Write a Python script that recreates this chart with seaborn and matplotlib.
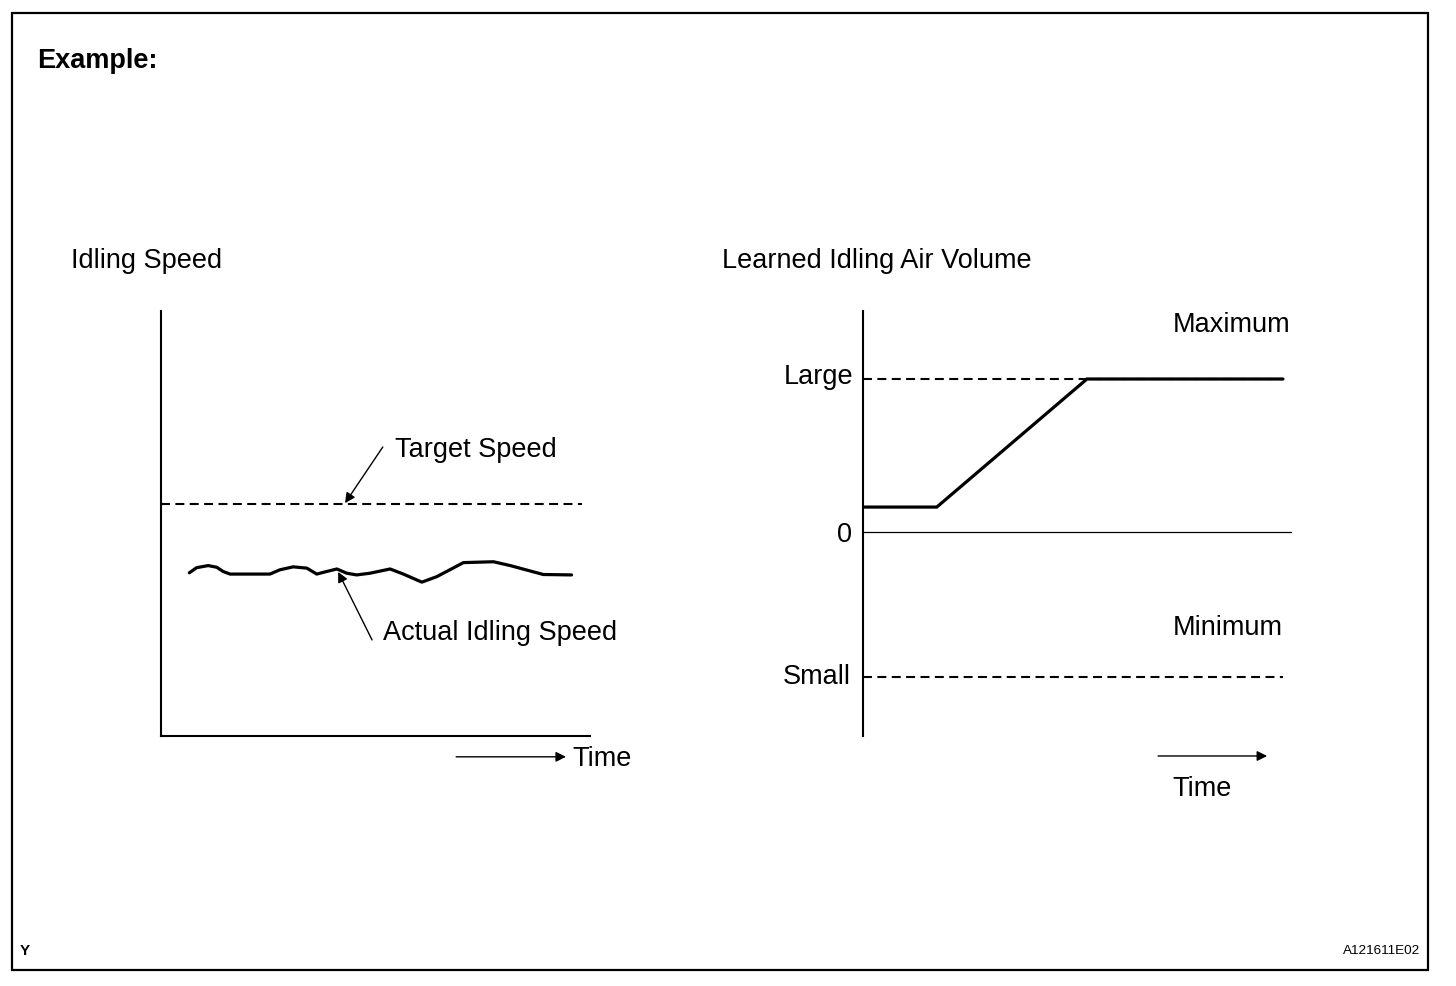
import matplotlib
matplotlib.use("Agg")
import matplotlib.pyplot as plt
from matplotlib.patches import Rectangle
import seaborn as sns

# left panel: idling speed (time 0-100, speed 0-100)
target_speed = 54.5
target_time = [0.0, 98.1]
actual_time = [6.6, 8.3, 11.0, 13.0, 14.5, 16.1, 25.4, 27.7, 30.8, 34.0, 36.3, 38.6, 41.0,
               43.3, 45.6, 48.7, 53.4, 56.5, 60.8, 64.3, 70.5, 77.5, 81.4, 89.1, 95.7]
actual_speed = [38.4, 39.6, 40.1, 39.7, 38.7, 38.1, 38.1, 39.1, 39.8, 39.5, 38.1, 38.7, 39.3,
                38.3, 37.9, 38.3, 39.3, 38.1, 36.2, 37.5, 40.8, 41.0, 40.1, 38.0, 37.9]

# right panel: learned idling air volume (0 = no learning, 1 = Large, -0.95 = Small)
level_large = 1.0
level_small = -0.95
limit_time = [0.0, 97.9]
learned_time = [0.0, 17.2, 52.2, 97.9]
learned_volume = [0.163, 0.163, 1.0, 1.0]

W, H = 1456, 986
FS = 19.5
DASH = (0, (4.3, 2.6))

sns.set_style("white")
plt.rcParams["font.family"] = ["Liberation Sans", "DejaVu Sans"]
plt.rcParams["text.color"] = "black"

fig = plt.figure(figsize=(W / 100, H / 100), dpi=100)
fig.patches.append(Rectangle((12 / W, 1 - 970 / H), 1416 / W, 957 / H,
                             transform=fig.transFigure, fill=False, lw=1.6, color="black"))

fig.text(37 / W, 1 - 61.5 / H, "Example:", fontsize=FS, fontweight="bold", va="center")
fig.text(71 / W, 1 - 260.5 / H, "Idling Speed", fontsize=FS, va="center")
fig.text(722 / W, 1 - 260.5 / H, "Learned Idling Air Volume", fontsize=FS, va="center")
fig.text(20 / W, 1 - 951 / H, "Y", fontsize=11, fontweight="bold", va="center")
fig.text(1420 / W, 1 - 951 / H, "A121611E02", fontsize=9.7, ha="right", va="center")

ax1 = fig.add_axes([161 / W, 1 - 736 / H, 429 / W, 425 / H])
ax2 = fig.add_axes([863 / W, 1 - 736 / H, 429 / W, 425 / H])
for ax in (ax1, ax2):
    ax.set_facecolor("none")
    ax.set_xticks([])
    ax.set_yticks([])
    ax.set_xlim(0, 100)
    for s in ("top", "right"):
        ax.spines[s].set_visible(False)
    for s in ("left", "bottom"):
        ax.spines[s].set_color("black")
        ax.spines[s].set_linewidth(1.5)

# left panel
ax1.set_ylim(0, 100)
sns.lineplot(x=target_time, y=[target_speed] * 2, ax=ax1, color="black", lw=1.5, linestyle=DASH)
sns.lineplot(x=actual_time, y=actual_speed, ax=ax1, color="black", lw=2.3,
             solid_joinstyle="round", solid_capstyle="round")
arrow = dict(arrowstyle="-|>", color="black", lw=1.0, mutation_scale=15, shrinkA=0, shrinkB=0)
ax1.annotate("", xy=(42.9, 54.8), xytext=(51.7, 68.0), arrowprops=arrow)
ax1.text(54.5, 67.4, "Target Speed", fontsize=FS, va="center")
ax1.annotate("", xy=(41.3, 38.6), xytext=(49.2, 22.6), arrowprops=arrow)
ax1.text(51.7, 24.3, "Actual Idling Speed", fontsize=FS, va="center")
ax1.annotate("", xy=(94.4, -4.9), xytext=(68.8, -4.9), arrowprops=arrow, annotation_clip=False)
ax1.text(95.8, -5.5, "Time", fontsize=FS, va="center", clip_on=False)

# right panel
ax2.set_ylim(-204 / 153, 221 / 153)
ax2.spines["bottom"].set_visible(False)
ax2.axhline(0, color="black", lw=0.9)
sns.lineplot(x=limit_time, y=[level_large] * 2, ax=ax2, color="black", lw=1.5, linestyle=DASH)
sns.lineplot(x=limit_time, y=[level_small] * 2, ax=ax2, color="black", lw=1.5, linestyle=DASH)
sns.lineplot(x=learned_time, y=learned_volume, ax=ax2, color="black", lw=2.3,
             solid_joinstyle="miter")
ax2.text(-2.3, level_large + 0.01, "Large", fontsize=FS, ha="right", va="center")
ax2.text(-2.5, -0.02, "0", fontsize=FS, ha="right", va="center")
ax2.text(-2.8, level_small + 0.005, "Small", fontsize=FS, ha="right", va="center")
ax2.text(72.3, 1.35, "Maximum", fontsize=FS, va="center")
ax2.text(72.3, -0.63, "Minimum", fontsize=FS, va="center")
ax2.annotate("", xy=(94.2, -1.464), xytext=(68.8, -1.464), arrowprops=arrow, annotation_clip=False)
ax2.text(72.0, -1.683, "Time", fontsize=FS, va="center", clip_on=False)

fig.savefig("out.png", dpi=100)
